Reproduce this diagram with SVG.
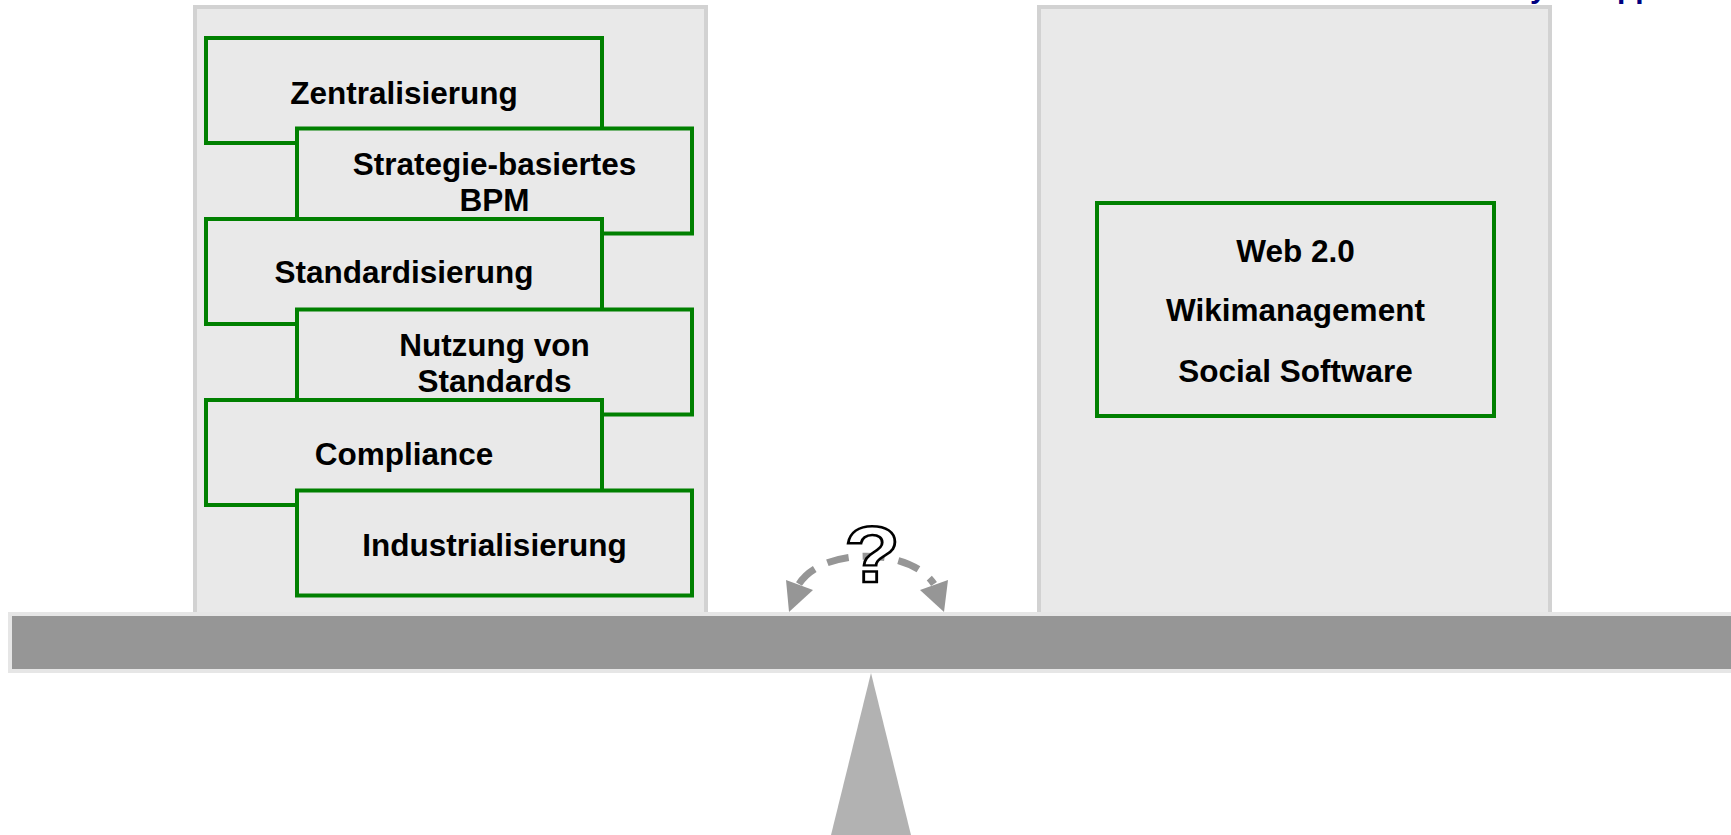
<svg xmlns="http://www.w3.org/2000/svg" width="1731" height="835" viewBox="0 0 1731 835">
<style>
.panel{fill:#e9e9e9;stroke:#d2d2d2;stroke-width:4}
.box{fill:#e9e9e9;stroke:#008000;stroke-width:4}
.lbl{font-family:"Liberation Sans",Arial,sans-serif;font-weight:bold;font-size:31.5px;fill:#000;text-anchor:middle}
.blue{font-family:"Liberation Sans",Arial,sans-serif;font-weight:bold;font-size:30px;fill:#000080}
.arc{fill:none;stroke:#969696;stroke-width:7;stroke-dasharray:22 14}
.head{fill:#969696}
</style>
<rect width="1731" height="835" fill="#ffffff"/>
<text class="blue" x="1530" y="-2">y</text>
<text class="blue" x="1617" y="-2">pp</text>
<g id="panel-left"><rect class="panel" x="195" y="7" width="511" height="620"/></g>
<g id="panel-right"><rect class="panel" x="1039" y="7" width="511" height="608"/></g>
<g id="zentralisierung"><rect class="box" x="206" y="38" width="396" height="105"/><text class="lbl" x="404" y="104">Zentralisierung</text></g>
<g id="strategie"><rect class="box" x="297" y="128.5" width="395" height="105"/><text class="lbl" x="494.5" y="175">Strategie-basiertes</text><text class="lbl" x="494.5" y="211">BPM</text></g>
<g id="standardisierung"><rect class="box" x="206" y="219" width="396" height="105"/><text class="lbl" x="404" y="283">Standardisierung</text></g>
<g id="nutzung"><rect class="box" x="297" y="309.5" width="395" height="105"/><text class="lbl" x="494.5" y="355.5">Nutzung von</text><text class="lbl" x="494.5" y="391.5">Standards</text></g>
<g id="compliance"><rect class="box" x="206" y="400" width="396" height="105"/><text class="lbl" x="404" y="465">Compliance</text></g>
<g id="industrialisierung"><rect class="box" x="297" y="490.5" width="395" height="105"/><text class="lbl" x="494.5" y="556">Industrialisierung</text></g>
<g id="web20"><rect class="box" x="1097" y="203" width="397" height="213"/><text class="lbl" x="1295.5" y="262">Web 2.0</text><text class="lbl" x="1295.5" y="321">Wikimanagement</text><text class="lbl" x="1295.5" y="382">Social Software</text></g>
<g id="beam"><rect x="10" y="614" width="1725" height="57" fill="#969696" stroke="#e6e6e6" stroke-width="4"/></g>
<g id="fulcrum"><polygon points="871,673 911,835 831,835" fill="#b2b2b2"/></g>
<g id="connectors">
<path class="arc" d="M 799 584 C 822 547, 910 547, 934 584"/>
<polygon class="head" points="786,580 813,590 789,612"/>
<polygon class="head" points="920,590 948,580 944,612"/>
</g>
<g id="question"><text x="872" y="582" transform="translate(872 0) scale(1.15 1) translate(-872 0)" font-family="'Liberation Sans',Arial,sans-serif" font-weight="bold" font-size="80" text-anchor="middle" fill="#ffffff" stroke="#000000" stroke-width="2.5">?</text></g>
</svg>
